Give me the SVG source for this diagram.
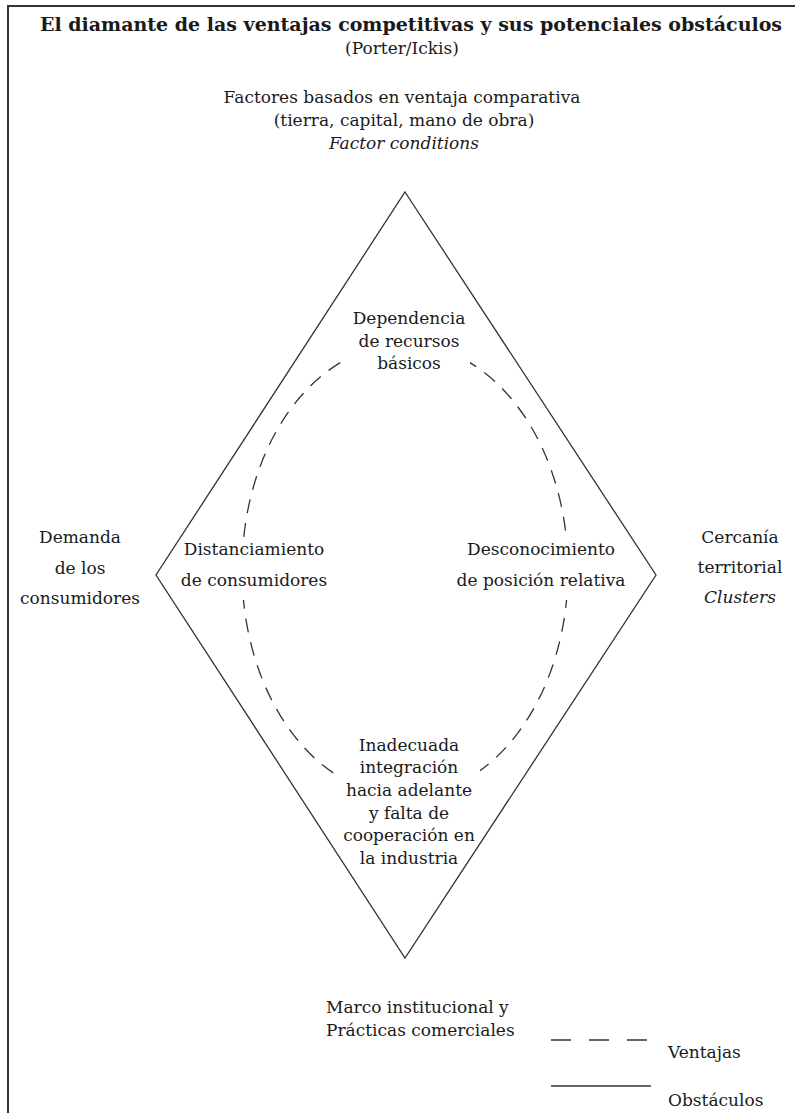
<svg xmlns="http://www.w3.org/2000/svg" width="795" height="1113" viewBox="0 0 795 1113">
<style>
text{font-family:"DejaVu Serif","Liberation Serif",serif;font-size:17px;fill:#1a1a1a;text-anchor:middle}
.b{font-weight:bold;font-size:19px}
.i{font-style:italic}
.l{text-anchor:start}
.solid{fill:none;stroke:#333;stroke-width:1.3}
.dash{fill:none;stroke:#333;stroke-width:1.3;stroke-dasharray:14 10}
.mask{fill:#fff;stroke:none}
</style>
<rect x="0" y="0" width="795" height="1113" fill="#fff"/>
<rect x="8" y="6" width="800" height="1120" fill="none" stroke="#333" stroke-width="2"/>
<g id="connectors">
<polygon id="diamond" class="solid" points="405,192 656,575 405,958 156,575"/>
<ellipse id="ellipse" class="dash" cx="405" cy="570" rx="163" ry="226"/>
</g>
<g id="title">
<text class="b" x="411" y="31">El diamante de las ventajas competitivas y sus potenciales obstáculos</text>
<text x="402" y="54">(Porter/Ickis)</text>
</g>
<g id="top-factors">
<text x="402" y="103">Factores basados en ventaja comparativa</text>
<text x="404" y="126">(tierra, capital, mano de obra)</text>
<text class="i" x="404" y="149">Factor conditions</text>
</g>
<g id="dependencia">
<rect class="mask" x="348" y="300" width="122" height="75"/>
<text x="409" y="324">Dependencia</text>
<text x="409" y="347">de recursos</text>
<text x="409" y="369">básicos</text>
</g>
<g id="demanda">
<text x="80" y="543">Demanda</text>
<text x="80" y="574">de los</text>
<text x="80" y="604">consumidores</text>
</g>
<g id="distanciamiento">
<rect class="mask" x="200" y="538" width="100" height="62"/>
<text x="254" y="555">Distanciamiento</text>
<text x="254" y="586">de consumidores</text>
</g>
<g id="desconocimiento">
<rect class="mask" x="520" y="538" width="100" height="62"/>
<text x="541" y="555">Desconocimiento</text>
<text x="541" y="586">de posición relativa</text>
</g>
<g id="cercania">
<text x="740" y="543">Cercanía</text>
<text x="740" y="573">territorial</text>
<text class="i" x="740" y="603">Clusters</text>
</g>
<g id="inadecuada">
<rect class="mask" x="338" y="728" width="142" height="80"/>
<text x="409" y="751">Inadecuada</text>
<text x="409" y="773">integración</text>
<text x="409" y="796">hacia adelante</text>
<text x="409" y="819">y falta de</text>
<text x="409" y="841">cooperación en</text>
<text x="409" y="864">la industria</text>
</g>
<g id="marco">
<text class="l" x="326" y="1013">Marco institucional y</text>
<text class="l" x="326" y="1036">Prácticas comerciales</text>
</g>
<g id="legend">
<line class="solid" x1="551" y1="1040" x2="651" y2="1040" stroke-dasharray="20 18"/>
<text class="l" x="668" y="1058">Ventajas</text>
<line class="solid" x1="551" y1="1086" x2="651" y2="1086"/>
<text class="l" x="668" y="1106">Obstáculos</text>
</g>
</svg>
